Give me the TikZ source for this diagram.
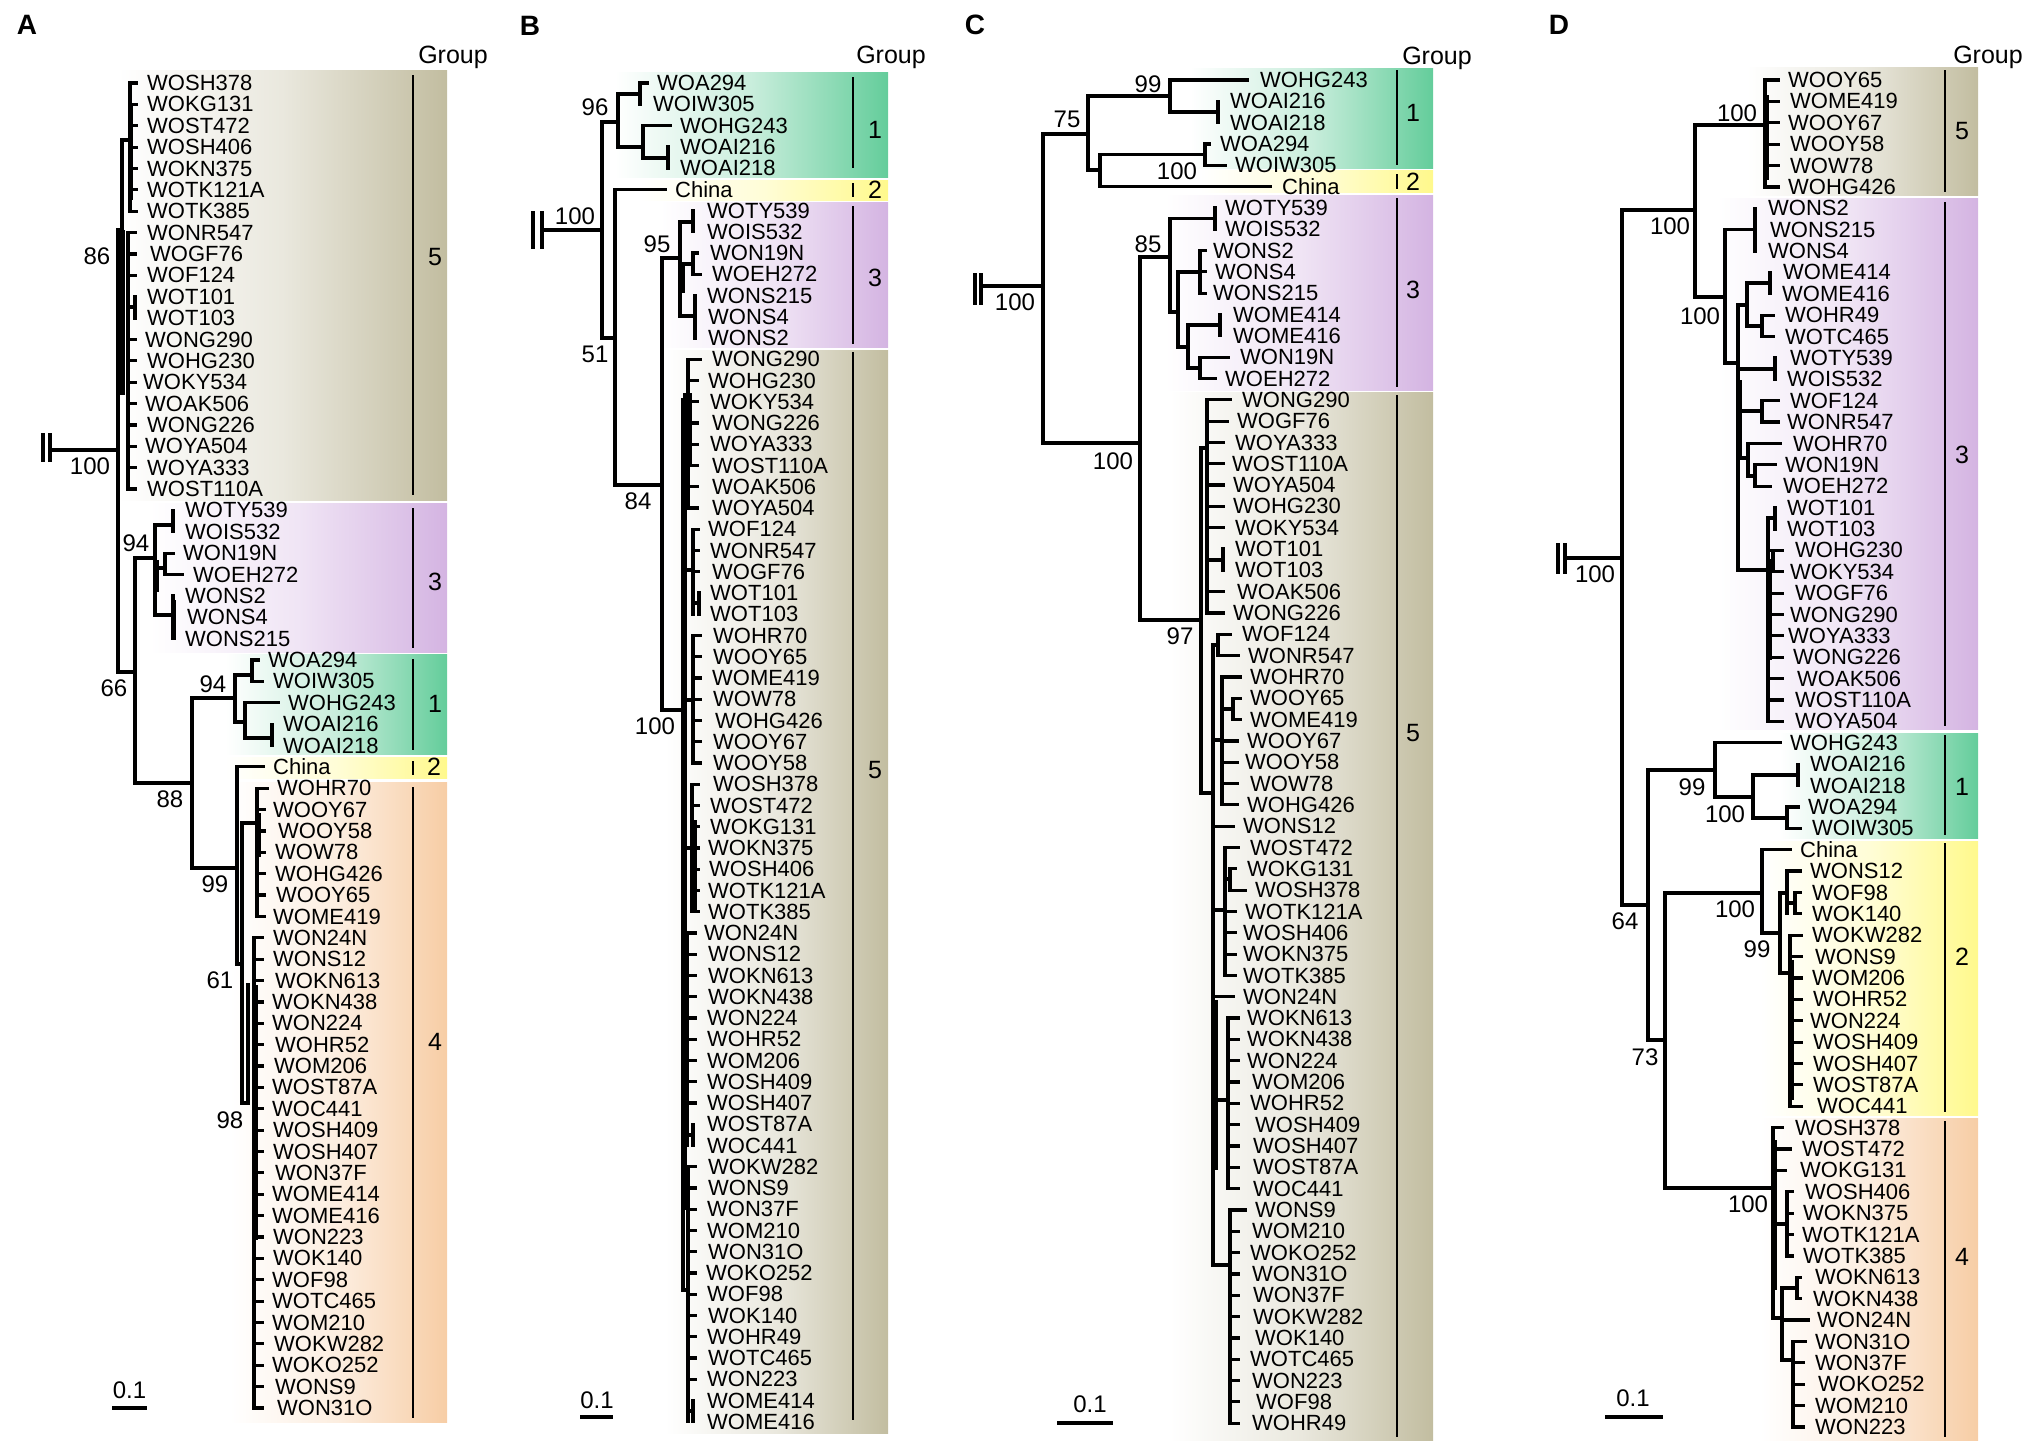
\documentclass[tikz,border=0pt]{standalone}
\usepackage{fontspec}
\setmainfont{Liberation Sans}
\definecolor{cA}{HTML}{64CD9B}
\definecolor{cB}{HTML}{FFF98C}
\definecolor{cC}{HTML}{D4B4E2}
\definecolor{cD}{HTML}{F7CDA5}
\definecolor{cE}{HTML}{C2BDA0}
\def\ya#1{83+21.37*#1}
\def\yb#1{83+21.25*#1}
\def\yc#1{80+21.32*#1}
\def\yd#1{80+21.38*#1}
\begin{document}
\begin{tikzpicture}[x=1pt,y=-1pt,
  br/.style={line width=3.2pt,line cap=rect},
  gl/.style={line width=2.6pt},
  sb/.style={line width=3.6pt},
  lbl/.style={anchor=west,inner sep=0pt,font=\fontsize{22}{24}\selectfont},
  bs/.style={inner sep=0pt,font=\fontsize{24}{26}\selectfont},
  gn/.style={inner sep=0pt,font=\fontsize{25}{27}\selectfont},
  pl/.style={inner sep=0pt,font=\fontsize{28}{30}\selectfont\bfseries},
  band/.style={left color=white,right color=#1,middle color=#1!35}]
\useasboundingbox (0,0) rectangle (2033,1446);

% ================= PANEL A =================
\shade[band=cE] (118,70) rectangle (447,500);
\shade[band=cC] (150,503) rectangle (447,652);
\shade[band=cA] (225,654) rectangle (447,754);
\shade[band=cB] (225,757) rectangle (447,778);
\shade[band=cD] (230,782) rectangle (447,1422);
\node[pl] (pA) at (27,25) {A};
\node[gn] (grA) at (453,57) {Group};
\draw[gl] (413,75) -- (413,495);  \node[gn] (gA5) at (435,257) {5};
\draw[gl] (413,508) -- (413,648); \node[gn] (gA3) at (435,582) {3};
\draw[gl] (413,659) -- (413,750); \node[gn] (gA1) at (435,704) {1};
\draw[gl] (413,761) -- (413,775); \node[gn] (gA2) at (434,767) {2};
\draw[gl] (413,787) -- (413,1418);\node[gn] (gA4) at (435,1042) {4};
\foreach \i/\x/\t in {0/147/WOSH378,1/147/WOKG131,2/147/WOST472,3/147/WOSH406,4/147/WOKN375,5/147/WOTK121A,6/147/WOTK385,7/147/WONR547,8/150/WOGF76,9/147/WOF124,10/147/WOT101,11/147/WOT103,12/145/WONG290,13/147/WOHG230,14/143/WOKY534,15/145/WOAK506,16/147/WONG226,17/145/WOYA504,18/147/WOYA333,19/147/WOST110A,20/185/WOTY539,21/185/WOIS532,22/183/WON19N,23/193/WOEH272,24/185/WONS2,25/187/WONS4,26/185/WONS215,27/268/WOA294,28/273/WOIW305,29/288/WOHG243,30/283/WOAI216,31/283/WOAI218,32/273/China,33/277/WOHR70,34/273/WOOY67,35/278/WOOY58,36/275/WOW78,37/275/WOHG426,38/276/WOOY65,39/273/WOME419,40/273/WON24N,41/273/WONS12,42/275/WOKN613,43/272/WOKN438,44/272/WON224,45/275/WOHR52,46/274/WOM206,47/272/WOST87A,48/272/WOC441,49/273/WOSH409,50/273/WOSH407,51/275/WON37F,52/272/WOME414,53/272/WOME416,54/273/WON223,55/273/WOK140,56/272/WOF98,57/272/WOTC465,58/272/WOM210,59/274/WOKW282,60/272/WOKO252,61/275/WONS9,62/277/WON31O}
  {\node[lbl] (a\i) at (\x,\ya{\i}) {\t};}
% outgroup and root
\draw[br] (43,435) -- (43,460); \draw[br] (50,435) -- (50,460);
\draw[br] (50,450) -- (118,450);
\draw[br] (118,230) -- (118,672);
\node[bs] (bA1) at (90,466) {100};
% group 5
\fill (116.4,230) rectangle (125,395);
\draw[br] (122,140) -- (122,230); \draw[br] (122,140) -- (130,140);
\draw[br] (130,\ya{0}) -- (130,\ya{6});
\foreach \i in {0,...,6} {\draw[br] (130,\ya{\i}) -- (136,\ya{\i});}
\fill (128.4,105) rectangle (133,200);
\draw[br] (128,\ya{7}) -- (128,\ya{19});
\foreach \i in {7,8,9,12,13,14,15,16,17,18,19} {\draw[br] (128,\ya{\i}) -- (135,\ya{\i});}
\draw[br] (128,307) -- (135,307); \draw[br] (135,\ya{10}) -- (135,\ya{11});
\node[bs] (bA2) at (97,256) {86};
% N66
\draw[br] (118,672) -- (135,672);
\draw[br] (135,558) -- (135,783);
\node[bs] (bA3) at (114,688) {66};
% group 3
\draw[br] (135,558) -- (155,558);
\draw[br] (155,525) -- (155,615);
\node[bs] (bA4) at (136,543) {94};
\draw[br] (155,525) -- (173,525); \draw[br] (173,\ya{20}) -- (173,\ya{21});
\fill (153.4,560) rectangle (158.5,592);
\draw[br] (155,568) -- (165,568); \draw[br] (165,\ya{22}) -- (165,\ya{23});
\draw[br] (165,\ya{22}) -- (173,\ya{22}); \draw[br] (165,\ya{23}) -- (182,\ya{23});
\draw[br] (155,615) -- (173,615); \draw[br] (173,\ya{24}) -- (173,\ya{26});
\fill (171.4,600) rectangle (176,640);
% N88
\draw[br] (135,783) -- (192,783);
\draw[br] (192,698) -- (192,868);
\node[bs] (bA5) at (170,799) {88};
% group 1
\draw[br] (192,698) -- (235,698);
\draw[br] (235,675) -- (235,722);
\node[bs] (bA6) at (213,684) {94};
\draw[br] (235,675) -- (252,675); \draw[br] (252,\ya{27}) -- (252,\ya{28});
\draw[br] (252,\ya{27}) -- (258,\ya{27}); \draw[br] (252,\ya{28}) -- (262,\ya{28});
\draw[br] (235,722) -- (245,722); \draw[br] (245,\ya{29}) -- (245,738);
\draw[br] (245,\ya{29}) -- (278,\ya{29}); \draw[br] (245,738) -- (272,738);
\draw[br] (272,\ya{30}) -- (272,\ya{31});
% N99
\draw[br] (192,868) -- (237,868);
\draw[br] (237,\ya{32}) -- (237,964);
\node[bs] (bA7) at (215,884) {99};
\draw[br] (237,\ya{32}) -- (263,\ya{32});
% N61
\draw[br] (237,964) -- (242,964);
\draw[br] (242,823) -- (242,1103);
\node[bs] (bA8) at (220,980) {61};
\draw[br] (242,823) -- (257,823);
\draw[br] (257,\ya{33}) -- (257,\ya{39});
\fill (255.4,813) rectangle (261,857);
\draw[br] (257,\ya{33}) -- (267,\ya{33});
\foreach \i in {34,...,39} {\draw[br] (257,\ya{\i}) -- (264,\ya{\i});}
% N98
\draw[br] (242,1103) -- (248,1103);
\draw[br] (248,985) -- (248,1103);
\node[bs] (bA9) at (230,1120) {98};
\draw[br] (254,\ya{40}) -- (254,\ya{62});
\fill (252.4,985) rectangle (258,1240);
\foreach \i in {40,...,62} {\draw[br] (254,\ya{\i}) -- (262,\ya{\i});}
% scale
\draw[sb] (112,1408) -- (147,1408); \node[bs] (sA) at (129.5,1390) {0.1};

% ================= PANEL B =================
\shade[band=cA] (615,72) rectangle (888,177);
\shade[band=cB] (640,180) rectangle (888,200);
\shade[band=cC] (660,202) rectangle (888,347);
\shade[band=cE] (665,350) rectangle (888,1433);
\node[pl] (pB) at (530,26) {B};
\node[gn] (grB) at (891,57) {Group};
\draw[gl] (853,77) -- (853,168);   \node[gn] (gB1) at (875,130) {1};
\draw[gl] (853,183) -- (853,197);  \node[gn] (gB2) at (875,190) {2};
\draw[gl] (853,206) -- (853,344);  \node[gn] (gB3) at (875,278) {3};
\draw[gl] (853,352) -- (853,1420); \node[gn] (gB5) at (875,770) {5};
\foreach \i/\x/\t in {0/657/WOA294,1/653/WOIW305,2/680/WOHG243,3/680/WOAI216,4/680/WOAI218,5/675/China,6/707/WOTY539,7/707/WOIS532,8/710/WON19N,9/712/WOEH272,10/707/WONS215,11/708/WONS4,12/708/WONS2,13/712/WONG290,14/708/WOHG230,15/710/WOKY534,16/712/WONG226,17/710/WOYA333,18/712/WOST110A,19/712/WOAK506,20/712/WOYA504,21/708/WOF124,22/710/WONR547,23/712/WOGF76,24/710/WOT101,25/710/WOT103,26/713/WOHR70,27/713/WOOY65,28/712/WOME419,29/713/WOW78,30/715/WOHG426,31/713/WOOY67,32/713/WOOY58,33/713/WOSH378,34/710/WOST472,35/710/WOKG131,36/708/WOKN375,37/709/WOSH406,38/708/WOTK121A,39/708/WOTK385,40/704/WON24N,41/708/WONS12,42/708/WOKN613,43/708/WOKN438,44/707/WON224,45/707/WOHR52,46/707/WOM206,47/707/WOSH409,48/707/WOSH407,49/707/WOST87A,50/707/WOC441,51/708/WOKW282,52/708/WONS9,53/707/WON37F,54/707/WOM210,55/708/WON31O,56/706/WOKO252,57/707/WOF98,58/708/WOK140,59/707/WOHR49,60/708/WOTC465,61/707/WON223,62/707/WOME414,63/707/WOME416}
  {\node[lbl] (b\i) at (\x,\yb{\i}) {\t};}
\draw[br] (533,213) -- (533,247); \draw[br] (542,213) -- (542,247);
\draw[br] (542,230) -- (602,230);
\node[bs] (bB1) at (575,216) {100};
\draw[br] (602,122) -- (602,338);
% group 1
\draw[br] (602,122) -- (618,122);
\draw[br] (618,94) -- (618,147);
\node[bs] (bB2) at (595,107) {96};
\draw[br] (618,94) -- (640,94); \draw[br] (640,\yb{0}) -- (640,\yb{1});
\draw[br] (640,\yb{0}) -- (647,\yb{0});
\draw[br] (618,147) -- (643,147); \draw[br] (643,\yb{2}) -- (643,158);
\draw[br] (643,\yb{2}) -- (670,\yb{2}); \draw[br] (643,158) -- (668,158);
\draw[br] (668,\yb{3}) -- (668,\yb{4});
% N51
\draw[br] (602,338) -- (615,338);
\draw[br] (615,\yb{5}) -- (615,485);
\node[bs] (bB3) at (595,354) {51};
\draw[br] (615,\yb{5}) -- (665,\yb{5});
% N84
\draw[br] (615,485) -- (662,485);
\draw[br] (662,258) -- (662,710);
\node[bs] (bB4) at (638,501) {84};
% group 3
\draw[br] (662,258) -- (680,258);
\draw[br] (680,222) -- (680,316);
\node[bs] (bB5) at (657,244) {95};
\draw[br] (680,222) -- (693,222); \draw[br] (693,\yb{6}) -- (693,\yb{7});
\fill (678.4,265) rectangle (685,293);
\draw[br] (683,264) -- (693,264); \draw[br] (693,\yb{8}) -- (693,\yb{9});
\draw[br] (693,\yb{8}) -- (697,\yb{8}); \draw[br] (693,\yb{9}) -- (700,\yb{9});
\draw[br] (680,316) -- (695,316); \draw[br] (695,\yb{10}) -- (695,\yb{12});
% group 5
\draw[br] (662,710) -- (683,710);
\node[bs] (bB6) at (655,726) {100};
\draw[br] (683,400) -- (683,1290);
\fill (681.4,400) rectangle (687,1210);
\draw[br] (688,\yb{13}) -- (688,\yb{20});
\fill (683,393) rectangle (692,467);
\draw[br] (688,\yb{13}) -- (700,\yb{13});
\foreach \i in {14,...,20} {\draw[br] (688,\yb{\i}) -- (697,\yb{\i});}
\draw[br] (683,570) -- (693,570); \draw[br] (693,\yb{21}) -- (693,\yb{25});
\foreach \i in {21,22,23} {\draw[br] (693,\yb{\i}) -- (698,\yb{\i});}
\draw[br] (693,603) -- (699,603); \draw[br] (699,\yb{24}) -- (699,\yb{25});
\draw[br] (683,700) -- (693,700); \draw[br] (693,\yb{26}) -- (693,\yb{32});
\foreach \i in {26,...,32} {\draw[br] (693,\yb{\i}) -- (700,\yb{\i});}
\draw[br] (683,848) -- (692,848); \draw[br] (692,\yb{33}) -- (692,\yb{39});
\foreach \i in {33,...,39} {\draw[br] (692,\yb{\i}) -- (698,\yb{\i});}
\fill (692,820) rectangle (697,910);
\draw[br] (683,1040) -- (687,1040); \draw[br] (687,\yb{40}) -- (687,\yb{50});
\foreach \i in {40,...,48} {\draw[br] (687,\yb{\i}) -- (695,\yb{\i});}
\draw[br] (687,1135) -- (693,1135); \draw[br] (693,\yb{49}) -- (693,\yb{50});
\draw[br] (683,1290) -- (688,1290); \draw[br] (688,\yb{51}) -- (688,\yb{63});
\foreach \i in {51,...,61} {\draw[br] (688,\yb{\i}) -- (695,\yb{\i});}
\draw[br] (688,1411) -- (693,1411); \draw[br] (693,\yb{62}) -- (693,\yb{63});
\draw[sb] (580,1417) -- (613,1417); \node[bs] (sB) at (597,1400) {0.1};

% ================= PANEL C =================
\shade[band=cA] (1190,68) rectangle (1433,168);
\shade[band=cB] (1200,170) rectangle (1433,192);
\shade[band=cC] (1165,195) rectangle (1433,390);
\shade[band=cE] (1170,392) rectangle (1433,1440);
\node[pl] (pC) at (975,25) {C};
\node[gn] (grC) at (1437,58) {Group};
\draw[gl] (1397,70) -- (1397,165);   \node[gn] (gC1) at (1413,113) {1};
\draw[gl] (1397,174) -- (1397,189);  \node[gn] (gC2) at (1413,182) {2};
\draw[gl] (1397,198) -- (1397,387);  \node[gn] (gC3) at (1413,290) {3};
\draw[gl] (1397,395) -- (1397,1437); \node[gn] (gC5) at (1413,733) {5};
\foreach \i/\x/\t in {0/1260/WOHG243,1/1230/WOAI216,2/1230/WOAI218,3/1220/WOA294,4/1235/WOIW305,5/1282/China,6/1225/WOTY539,7/1225/WOIS532,8/1213/WONS2,9/1215/WONS4,10/1213/WONS215,11/1233/WOME414,12/1233/WOME416,13/1240/WON19N,14/1225/WOEH272,15/1242/WONG290,16/1237/WOGF76,17/1235/WOYA333,18/1232/WOST110A,19/1233/WOYA504,20/1233/WOHG230,21/1235/WOKY534,22/1235/WOT101,23/1235/WOT103,24/1237/WOAK506,25/1233/WONG226,26/1242/WOF124,27/1248/WONR547,28/1250/WOHR70,29/1250/WOOY65,30/1250/WOME419,31/1247/WOOY67,32/1245/WOOY58,33/1250/WOW78,34/1247/WOHG426,35/1243/WONS12,36/1250/WOST472,37/1247/WOKG131,38/1255/WOSH378,39/1245/WOTK121A,40/1243/WOSH406,41/1243/WOKN375,42/1243/WOTK385,43/1243/WON24N,44/1247/WOKN613,45/1247/WOKN438,46/1247/WON224,47/1252/WOM206,48/1250/WOHR52,49/1255/WOSH409,50/1253/WOSH407,51/1253/WOST87A,52/1253/WOC441,53/1255/WONS9,54/1252/WOM210,55/1250/WOKO252,56/1252/WON31O,57/1253/WON37F,58/1253/WOKW282,59/1255/WOK140,60/1250/WOTC465,61/1252/WON223,62/1256/WOF98,63/1252/WOHR49}
  {\node[lbl] (c\i) at (\x,\yc{\i}) {\t};}
\draw[br] (975,275) -- (975,303); \draw[br] (981,275) -- (981,303);
\draw[br] (981,286) -- (1043,286);
\node[bs] (bC1) at (1015,302) {100};
\draw[br] (1043,134) -- (1043,443);
% top clade
\draw[br] (1043,134) -- (1088,134);
\draw[br] (1088,96) -- (1088,170);
\node[bs] (bC2) at (1067,119) {75};
\draw[br] (1088,96) -- (1170,96);
\draw[br] (1170,\yc{0}) -- (1170,112);
\node[bs] (bC3) at (1148,84) {99};
\draw[br] (1170,\yc{0}) -- (1247,\yc{0});
\draw[br] (1170,112) -- (1218,112); \draw[br] (1218,\yc{1}) -- (1218,\yc{2});
\draw[br] (1088,170) -- (1100,170);
\draw[br] (1100,154.6) -- (1100,\yc{5});
\draw[br] (1100,154.6) -- (1205,154.6);
\draw[br] (1205,\yc{3}) -- (1205,\yc{4});
\draw[br] (1205,\yc{3}) -- (1209,\yc{3}); \draw[br] (1205,\yc{4}) -- (1225,\yc{4});
\node[bs] (bC4) at (1177,171) {100};
\draw[br] (1100,\yc{5}) -- (1270,\yc{5});
% bottom clade
\draw[br] (1043,443) -- (1140,443);
\draw[br] (1140,257) -- (1140,620);
\node[bs] (bC5) at (1113,461) {100};
\draw[br] (1140,257) -- (1170,257);
\draw[br] (1170,218.5) -- (1170,312);
\node[bs] (bC6) at (1148,244) {85};
\draw[br] (1170,218.5) -- (1215,218.5); \draw[br] (1215,\yc{6}) -- (1215,\yc{7});
\draw[br] (1170,312) -- (1178,312);
\draw[br] (1178,272) -- (1178,347);
\draw[br] (1178,272) -- (1200,272); \draw[br] (1200,\yc{8}) -- (1200,\yc{10});
\foreach \i in {8,9,10} {\draw[br] (1200,\yc{\i}) -- (1205,\yc{\i});}
\draw[br] (1178,347) -- (1188,347);
\draw[br] (1188,325) -- (1188,368);
\draw[br] (1188,325) -- (1220,325); \draw[br] (1220,\yc{11}) -- (1220,\yc{12});
\draw[br] (1188,368) -- (1200,368); \draw[br] (1200,\yc{13}) -- (1200,\yc{14});
\draw[br] (1200,\yc{13}) -- (1228,\yc{13}); \draw[br] (1200,\yc{14}) -- (1215,\yc{14});
% group 5
\draw[br] (1140,620) -- (1201,620);
\draw[br] (1201,448) -- (1201,793);
\node[bs] (bC7) at (1180,636) {97};
\draw[br] (1201,448) -- (1207,448);
\draw[br] (1207,\yc{15}) -- (1207,\yc{25});
\draw[br] (1207,\yc{15}) -- (1230,\yc{15}); \draw[br] (1207,\yc{16}) -- (1227,\yc{16});
\foreach \i in {17,...,21,24,25} {\draw[br] (1207,\yc{\i}) -- (1223,\yc{\i});}
\draw[br] (1207,560) -- (1223,560); \draw[br] (1223,\yc{22}) -- (1223,\yc{23});
\draw[br] (1201,793) -- (1213,793);
\draw[br] (1213,645) -- (1213,1265);
\draw[br] (1213,645) -- (1218,645); \draw[br] (1218,\yc{26}) -- (1218,\yc{27});
\draw[br] (1218,\yc{26}) -- (1230,\yc{26}); \draw[br] (1218,\yc{27}) -- (1238,\yc{27});
\draw[br] (1213,740) -- (1222,740); \draw[br] (1222,\yc{28}) -- (1222,\yc{34});
\draw[br] (1222,\yc{28}) -- (1240,\yc{28});
\draw[br] (1222,709) -- (1233,709); \draw[br] (1233,\yc{29}) -- (1233,\yc{30});
\draw[br] (1233,\yc{29}) -- (1240,\yc{29}); \draw[br] (1233,\yc{30}) -- (1240,\yc{30});
\foreach \i in {31,...,34} {\draw[br] (1222,\yc{\i}) -- (1237,\yc{\i});}
\draw[br] (1213,\yc{35}) -- (1233,\yc{35});
\draw[br] (1213,910) -- (1225,910); \draw[br] (1225,\yc{36}) -- (1225,\yc{42});
\draw[br] (1225,\yc{36}) -- (1238,\yc{36});
\draw[br] (1225,879) -- (1230,879); \draw[br] (1230,\yc{37}) -- (1230,\yc{38});
\draw[br] (1230,\yc{37}) -- (1235,\yc{37}); \draw[br] (1230,\yc{38}) -- (1245,\yc{38});
\foreach \i in {39,...,42} {\draw[br] (1225,\yc{\i}) -- (1235,\yc{\i});}
\draw[br] (1213,\yc{43}) -- (1233,\yc{43});
\draw[br] (1213,1100) -- (1228,1100); \draw[br] (1228,\yc{44}) -- (1228,\yc{52});
\foreach \i in {44,...,52} {\draw[br] (1228,\yc{\i}) -- (1238,\yc{\i});}
\fill (1211.4,1000) rectangle (1218,1170);
\draw[br] (1213,1265) -- (1230,1265); \draw[br] (1230,\yc{53}) -- (1230,\yc{63});
\draw[br] (1230,\yc{53}) -- (1245,\yc{53});
\foreach \i in {54,...,63} {\draw[br] (1230,\yc{\i}) -- (1238,\yc{\i});}
\draw[sb] (1057,1423) -- (1113,1423); \node[bs] (sC) at (1090,1404) {0.1};

% ================= PANEL D =================
\shade[band=cE] (1747,67) rectangle (1978,195);
\shade[band=cC] (1717,198) rectangle (1978,729);
\shade[band=cA] (1780,733) rectangle (1978,838);
\shade[band=cB] (1760,841) rectangle (1978,1115);
\shade[band=cD] (1760,1118) rectangle (1978,1440);
\node[pl] (pD) at (1559,25) {D};
\node[gn] (grD) at (1988,57) {Group};
\draw[gl] (1945,70) -- (1945,192);    \node[gn] (gD5) at (1962,131) {5};
\draw[gl] (1945,202) -- (1945,726);   \node[gn] (gD3) at (1962,455) {3};
\draw[gl] (1945,735) -- (1945,835);   \node[gn] (gD1) at (1962,787) {1};
\draw[gl] (1945,843) -- (1945,1112);  \node[gn] (gD2) at (1962,957) {2};
\draw[gl] (1945,1121) -- (1945,1437); \node[gn] (gD4) at (1962,1257) {4};
\foreach \i/\x/\t in {0/1788/WOOY65,1/1790/WOME419,2/1788/WOOY67,3/1790/WOOY58,4/1790/WOW78,5/1788/WOHG426,6/1768/WONS2,7/1770/WONS215,8/1768/WONS4,9/1783/WOME414,10/1782/WOME416,11/1785/WOHR49,12/1785/WOTC465,13/1790/WOTY539,14/1787/WOIS532,15/1790/WOF124,16/1787/WONR547,17/1793/WOHR70,18/1785/WON19N,19/1783/WOEH272,20/1787/WOT101,21/1787/WOT103,22/1795/WOHG230,23/1790/WOKY534,24/1795/WOGF76,25/1790/WONG290,26/1788/WOYA333,27/1793/WONG226,28/1797/WOAK506,29/1795/WOST110A,30/1795/WOYA504,31/1790/WOHG243,32/1810/WOAI216,33/1810/WOAI218,34/1808/WOA294,35/1812/WOIW305,36/1800/China,37/1810/WONS12,38/1812/WOF98,39/1812/WOK140,40/1812/WOKW282,41/1815/WONS9,42/1812/WOM206,43/1813/WOHR52,44/1810/WON224,45/1813/WOSH409,46/1813/WOSH407,47/1813/WOST87A,48/1817/WOC441,49/1795/WOSH378,50/1802/WOST472,51/1800/WOKG131,52/1805/WOSH406,53/1803/WOKN375,54/1802/WOTK121A,55/1803/WOTK385,56/1815/WOKN613,57/1813/WOKN438,58/1817/WON24N,59/1815/WON31O,60/1815/WON37F,61/1818/WOKO252,62/1815/WOM210,63/1815/WON223}
  {\node[lbl] (d\i) at (\x,\yd{\i}) {\t};}
\draw[br] (1558,545) -- (1558,572); \draw[br] (1565,545) -- (1565,572);
\draw[br] (1565,558) -- (1622,558);
\node[bs] (bD1) at (1595,574) {100};
\draw[br] (1622,210) -- (1622,905);
% upper clade
\draw[br] (1622,210) -- (1695,210);
\draw[br] (1695,125) -- (1695,297);
\node[bs] (bD2) at (1670,226) {100};
\draw[br] (1695,125) -- (1765,125);
\draw[br] (1765,\yd{0}) -- (1765,\yd{5});
\fill (1763.4,95) rectangle (1769,180);
\foreach \i in {0,...,5} {\draw[br] (1765,\yd{\i}) -- (1778,\yd{\i});}
\node[bs] (bD3) at (1737,113) {100};
\draw[br] (1695,297) -- (1725,297);
\draw[br] (1725,\yd{7}) -- (1725,363);
\node[bs] (bD4) at (1700,316) {100};
\draw[br] (1725,\yd{7}) -- (1755,\yd{7}); \draw[br] (1755,\yd{6}) -- (1755,\yd{8});
\draw[br] (1725,363) -- (1738,363);
\draw[br] (1738,305) -- (1738,570);
\fill (1736.4,380) rectangle (1742,460);
\draw[br] (1738,305) -- (1747,305); \draw[br] (1747,283) -- (1747,326);
\draw[br] (1747,283) -- (1770,283); \draw[br] (1770,\yd{9}) -- (1770,\yd{10});
\draw[br] (1747,326) -- (1762,326); \draw[br] (1762,\yd{11}) -- (1762,\yd{12});
\draw[br] (1762,\yd{11}) -- (1773,\yd{11}); \draw[br] (1762,\yd{12}) -- (1773,\yd{12});
\draw[br] (1738,369) -- (1775,369); \draw[br] (1775,\yd{13}) -- (1775,\yd{14});
\draw[br] (1738,411) -- (1762,411); \draw[br] (1762,\yd{15}) -- (1762,\yd{16});
\draw[br] (1762,\yd{15}) -- (1778,\yd{15}); \draw[br] (1762,\yd{16}) -- (1778,\yd{16});
\draw[br] (1738,458) -- (1748,458); \draw[br] (1748,\yd{17}) -- (1748,476);
\draw[br] (1748,\yd{17}) -- (1780,\yd{17});
\draw[br] (1748,476) -- (1755,476); \draw[br] (1755,\yd{18}) -- (1755,\yd{19});
\draw[br] (1755,\yd{18}) -- (1775,\yd{18}); \draw[br] (1755,\yd{19}) -- (1770,\yd{19});
\draw[br] (1738,570) -- (1768,570);
\draw[br] (1768,518) -- (1768,\yd{30});
\draw[br] (1768,518) -- (1775,518); \draw[br] (1775,\yd{20}) -- (1775,\yd{21});
\fill (1766.4,560) rectangle (1771.5,660);
\draw[br] (1768,561) -- (1773,561); \draw[br] (1773,\yd{22}) -- (1773,\yd{23});
\foreach \i in {22,...,30} {\draw[br] (1770,\yd{\i}) -- (1782,\yd{\i});}
% lower clade
\draw[br] (1622,905) -- (1648,905);
\draw[br] (1648,770) -- (1648,1040);
\node[bs] (bD5) at (1625,921) {64};
\draw[br] (1648,770) -- (1715,770);
\draw[br] (1715,\yd{31}) -- (1715,797);
\node[bs] (bD6) at (1692,787) {99};
\draw[br] (1715,\yd{31}) -- (1780,\yd{31});
\draw[br] (1715,797) -- (1753,797);
\draw[br] (1753,775) -- (1753,818);
\node[bs] (bD7) at (1725,814) {100};
\draw[br] (1753,775) -- (1798,775); \draw[br] (1798,\yd{32}) -- (1798,\yd{33});
\draw[br] (1753,818) -- (1787,818); \draw[br] (1787,\yd{34}) -- (1787,\yd{35});
\draw[br] (1787,\yd{34}) -- (1798,\yd{34}); \draw[br] (1787,\yd{35}) -- (1800,\yd{35});
\draw[br] (1648,1040) -- (1665,1040);
\draw[br] (1665,893) -- (1665,1188);
\node[bs] (bD8) at (1645,1057) {73};
% group 2
\draw[br] (1665,893) -- (1762,893);
\draw[br] (1762,\yd{36}) -- (1762,933);
\node[bs] (bD9) at (1735,909) {100};
\draw[br] (1762,\yd{36}) -- (1790,\yd{36});
\draw[br] (1762,933) -- (1780,933);
\draw[br] (1780,893) -- (1780,973);
\node[bs] (bD10) at (1757,949) {99};
\draw[br] (1780,893) -- (1787,893); \draw[br] (1787,\yd{37}) -- (1787,\yd{39});
\draw[br] (1787,\yd{37}) -- (1800,\yd{37});
\draw[br] (1787,903) -- (1795,903); \draw[br] (1795,\yd{38}) -- (1795,\yd{39});
\draw[br] (1795,\yd{38}) -- (1800,\yd{38}); \draw[br] (1795,\yd{39}) -- (1800,\yd{39});
\draw[br] (1780,973) -- (1790,973); \draw[br] (1790,\yd{40}) -- (1790,\yd{48});
\fill (1788.4,960) rectangle (1794,1100);
\foreach \i in {40,...,48} {\draw[br] (1790,\yd{\i}) -- (1801,\yd{\i});}
% group 4
\draw[br] (1665,1188) -- (1773,1188);
\draw[br] (1773,\yd{49}) -- (1773,1318);
\node[bs] (bD11) at (1748,1204) {100};
\fill (1771.4,1140) rectangle (1777,1290);
\draw[br] (1773,\yd{49}) -- (1782,\yd{49});
\draw[br] (1773,\yd{50}) -- (1790,\yd{50});
\draw[br] (1773,\yd{51}) -- (1785,\yd{51});
\draw[br] (1773,1224) -- (1787,1224); \draw[br] (1787,\yd{52}) -- (1787,\yd{55});
\foreach \i in {52,...,55} {\draw[br] (1787,\yd{\i}) -- (1792,\yd{\i});}
\draw[br] (1773,1318) -- (1782,1318);
\draw[br] (1782,1288) -- (1782,1360);
\draw[br] (1782,1288) -- (1797,1288); \draw[br] (1797,\yd{56}) -- (1797,\yd{57});
\draw[br] (1797,\yd{56}) -- (1800,\yd{56}); \draw[br] (1797,\yd{57}) -- (1800,\yd{57});
\draw[br] (1782,\yd{58}) -- (1808,\yd{58});
\draw[br] (1782,1360) -- (1793,1360); \draw[br] (1793,\yd{59}) -- (1793,\yd{63});
\draw[br] (1793,\yd{59}) -- (1805,\yd{59});
\foreach \i in {60,...,63} {\draw[br] (1793,\yd{\i}) -- (1803,\yd{\i});}
\draw[sb] (1605,1417) -- (1663,1417); \node[bs] (sD) at (1633,1398) {0.1};
\end{tikzpicture}
\end{document}
